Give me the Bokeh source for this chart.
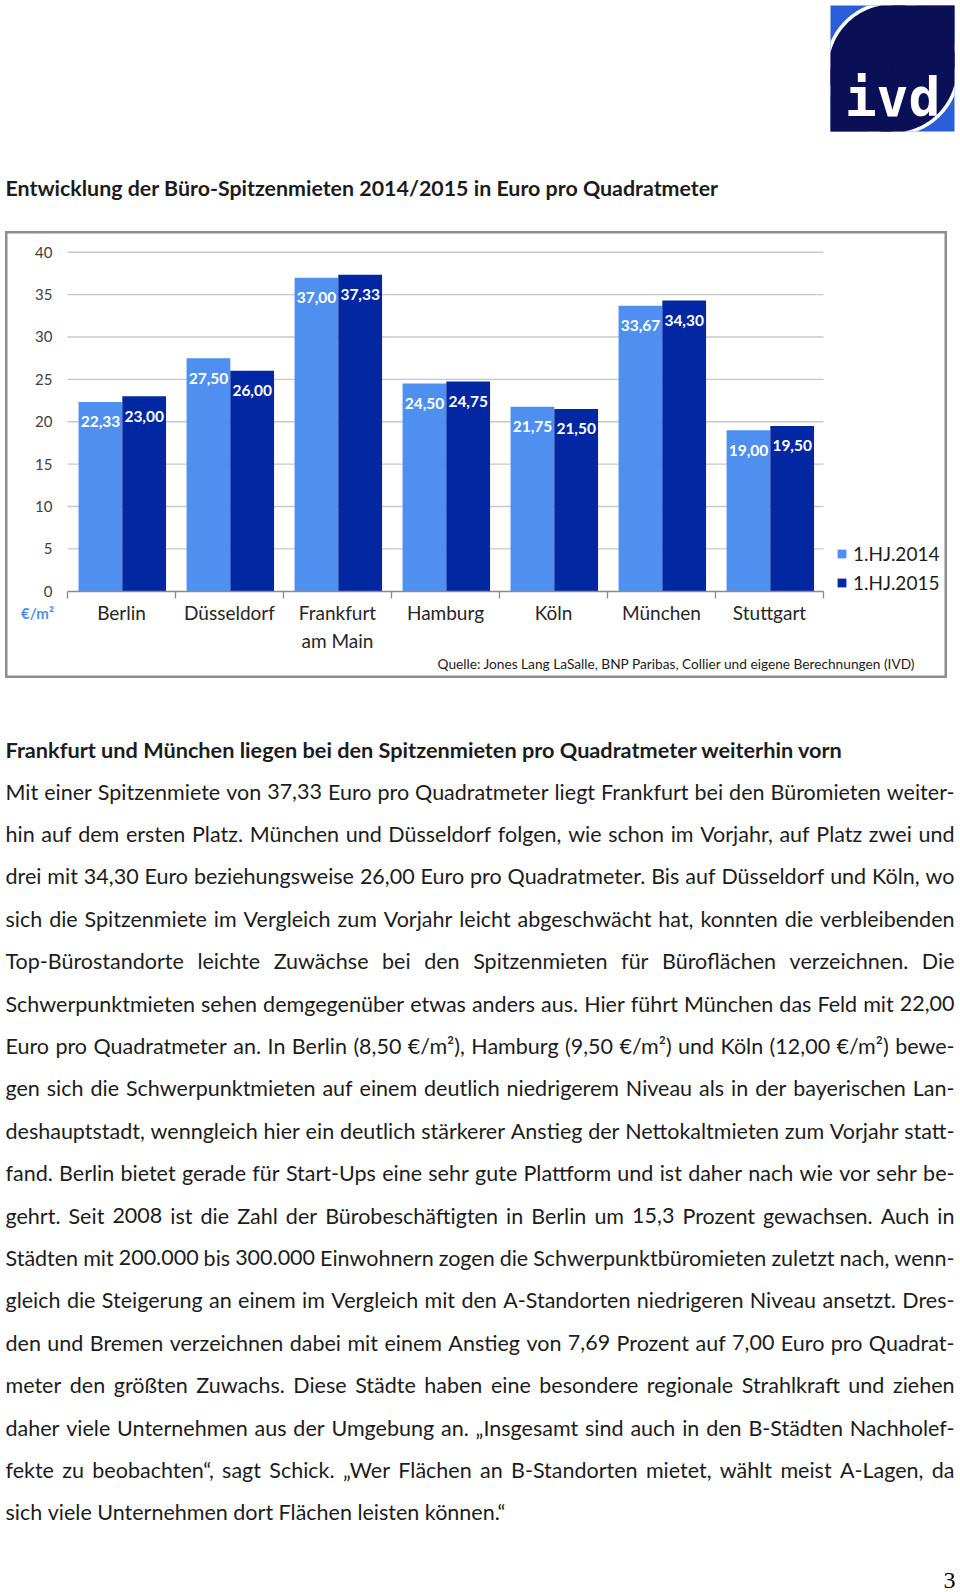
import numpy as np
from bokeh.plotting import figure
from bokeh.models import (Range1d, LinearAxis, FixedTicker, CustomJSTickFormatter,
                          Legend, LegendItem, Spacer, ColumnDataSource, CustomJS)
from bokeh.layouts import column, row
from bokeh.core.properties import value
from bokeh.document import Document
from bokeh.events import DocumentReady
from bokeh.embed import file_html
from bokeh.resources import INLINE

# ---------------- data ----------------
cities = ["Berlin", "Düsseldorf", "Frankfurt\nam Main", "Hamburg", "Köln", "München", "Stuttgart"]
h1_2014 = [22.33, 27.50, 37.00, 24.50, 21.75, 33.67, 19.00]
h1_2015 = [23.00, 26.00, 37.33, 24.75, 21.50, 34.30, 19.50]
series_names = ["1.HJ.2014", "1.HJ.2015"]
y_ticks = [0, 5, 10, 15, 20, 25, 30, 35, 40]
unit_label = "€/m²"
source_note = "Quelle: Jones Lang LaSalle, BNP Paribas, Collier und eigene Berechnungen (IVD)"
page_title = "Entwicklung der Büro-Spitzenmieten 2014/2015 in Euro pro Quadratmeter"
heading = "Frankfurt und München liegen bei den Spitzenmieten pro Quadratmeter weiterhin vorn"
body_lines = [
    "Mit einer Spitzenmiete von 37,33 Euro pro Quadratmeter liegt Frankfurt bei den Büromieten weiter-",
    "hin auf dem ersten Platz. München und Düsseldorf folgen, wie schon im Vorjahr, auf Platz zwei und",
    "drei mit 34,30 Euro beziehungsweise 26,00 Euro pro Quadratmeter. Bis auf Düsseldorf und Köln, wo",
    "sich die  Spitzenmiete im Vergleich zum Vorjahr leicht abgeschwächt hat, konnten die verbleibenden",
    "Top-Bürostandorte leichte Zuwächse bei den Spitzenmieten für Büroflächen verzeichnen. Die",
    "Schwerpunktmieten sehen demgegenüber etwas anders aus. Hier führt München das Feld mit 22,00",
    "Euro pro Quadratmeter an. In Berlin (8,50 €/m²), Hamburg (9,50 €/m²) und Köln (12,00 €/m²) bewe-",
    "gen sich die Schwerpunktmieten auf einem deutlich niedrigerem Niveau als in der bayerischen Lan-",
    "deshauptstadt, wenngleich hier ein deutlich stärkerer Anstieg der Nettokaltmieten zum Vorjahr statt-",
    "fand. Berlin bietet gerade für Start-Ups eine sehr gute Plattform und ist daher nach wie vor sehr be-",
    "gehrt. Seit 2008 ist die Zahl der Bürobeschäftigten in Berlin um 15,3 Prozent gewachsen. Auch in",
    "Städten mit 200.000 bis 300.000 Einwohnern zogen die Schwerpunktbüromieten zuletzt nach, wenn-",
    "gleich die Steigerung an einem im Vergleich mit den A-Standorten niedrigeren Niveau ansetzt. Dres-",
    "den und Bremen verzeichnen dabei mit einem Anstieg von 7,69 Prozent auf 7,00 Euro pro Quadrat-",
    "meter den größten Zuwachs. Diese Städte haben eine besondere regionale Strahlkraft und ziehen",
    "daher viele Unternehmen aus der Umgebung an.  „Insgesamt sind auch in den B-Städten Nachholef-",
    "fekte zu beobachten“, sagt Schick. „Wer Flächen an B-Standorten mietet, wählt meist A-Lagen, da",
    "sich viele Unternehmen dort Flächen leisten können.“",
]
page_number = "3"
logo_text = "ivd"

# ---------------- style / layout ----------------
FONT = value("Lato")
LIGHT = "#4f8fef"
DARK = "#0227a3"
NAVY = "#0b0f55"
TXT = "#1c1c1c"

W, H = 960, 1592
HEAD_H = 231
CH_LEFT, CH_W, CH_H = 5, 942, 447
CH_TOP = HEAD_H
BODY_TOP = CH_TOP + CH_H
BODY_H = H - BODY_TOP
TEXT_L, TEXT_R = 5, 954
BODY_FS = 21.5


def blank(w, h, xr, yr):
    f = figure(width=w, height=h, x_range=Range1d(*xr), y_range=Range1d(*yr),
               x_axis_type=None, y_axis_type=None, toolbar_location=None,
               output_backend="svg", min_border=0, outline_line_color=None,
               background_fill_color="white", border_fill_color="white")
    return f


def fmt(v):
    return f"{v:.2f}".replace(".", ",")


# ---------------- header ----------------
head = blank(W, HEAD_H, (0, W), (HEAD_H, 0))
lx0, lx1, ly0, ly1 = 830, 954, 5, 131
cx, cy = (lx0 + lx1) / 2, (ly0 + ly1) / 2
head.quad(left=lx0, right=lx1, top=ly0, bottom=ly1, fill_color="#2b5fd9", line_color=None)
t = np.linspace(0, 2 * np.pi, 240)
for r, col in [(67.5, "white"), (64, NAVY)]:
    xs = np.clip(cx + r * np.cos(t), lx0, lx1)
    ys = np.clip(cy + r * np.sin(t), ly0, ly1)
    head.patch(xs, ys, fill_color=col, line_color=None)
head.quad(left=cx, right=lx1, top=ly0, bottom=cy, fill_color=NAVY, line_color=None)
head.quad(left=lx0, right=cx, top=cy, bottom=ly1, fill_color=NAVY, line_color=None)
head.text(x=[cx], y=[97], text=[logo_text], text_align="center", text_baseline="alphabetic",
          text_color="white", text_font=value("DejaVu Sans Mono"), text_font_style="bold",
          text_font_size="53px")
head.text(x=[5], y=[187], text=[page_title], text_align="left", text_baseline="middle",
          text_color=TXT, text_font=FONT, text_font_style="bold", text_font_size="21.4px")

# ---------------- chart ----------------
PL, PR = 62, 818           # plot area inside the chart box (px)
Y0PX, YTOPPX = 359.7, 20.7  # pixel rows of 0 and of the top tick
ymax = max(y_ticks)
cw = (PR - PL) / len(cities)
ppu = (Y0PX - YTOPPX) / ymax
chart = figure(width=CH_W, height=CH_H,
               x_range=Range1d(-PL / cw, (CH_W - PL) / cw),
               y_range=Range1d(-(CH_H - Y0PX) / ppu, ymax + YTOPPX / ppu),
               x_axis_type=None, y_axis_type=None, toolbar_location=None,
               output_backend="svg", min_border=0,
               outline_line_color="#8c8c8c", outline_line_width=4,
               background_fill_color="white", border_fill_color="white")


def px2x(page_x):
    return ((page_x - CH_LEFT) - PL) / cw


def py2y(page_y):
    return (Y0PX - (page_y - CH_TOP)) / ppu


idx = np.arange(len(cities))
chart.segment(x0=0, x1=len(cities), y0=y_ticks[1:], y1=y_ticks[1:],
              line_color="#c8c8c8", line_width=1.4)

off1, off2, bw = 0.305, 0.71, 0.405
r1 = chart.vbar(x=idx + off1, top=h1_2014, bottom=0, width=bw, fill_color=LIGHT, line_color=None)
r2 = chart.vbar(x=idx + off2, top=h1_2015, bottom=0, width=bw, fill_color=DARK, line_color=None)

for offs, vals in [(off1, h1_2014), (off2, h1_2015)]:
    chart.text(x=idx + offs, y=vals, text=[fmt(v) for v in vals], text_align="center",
               text_baseline="middle", y_offset=20, text_color="white", text_font=FONT,
               text_font_style="bold", text_font_size="15.5px")

yax = LinearAxis(ticker=FixedTicker(ticks=y_ticks), fixed_location=0,
                 axis_line_color=None, major_tick_line_color=None, minor_tick_line_color=None,
                 major_tick_in=0, major_tick_out=0, major_label_standoff=15,
                 major_label_text_font="Lato", major_label_text_font_size="15px",
                 major_label_text_color="#404040")
chart.add_layout(yax, "left")

xtick_ax = LinearAxis(ticker=FixedTicker(ticks=list(range(len(cities) + 1))), fixed_location=0,
                      bounds=(0, len(cities)), axis_line_color="#8a8a8a", axis_line_width=1.3,
                      major_tick_line_color="#8a8a8a", major_tick_line_width=1.3,
                      major_tick_in=0, major_tick_out=7, minor_tick_line_color=None,
                      formatter=CustomJSTickFormatter(code="return ''"))
chart.add_layout(xtick_ax, "below")

xlab_ax = LinearAxis(ticker=FixedTicker(ticks=list(idx + 0.5)), fixed_location=0,
                     axis_line_color=None, major_tick_line_color=None, minor_tick_line_color=None,
                     major_tick_in=0, major_tick_out=0, major_label_standoff=10,
                     formatter=CustomJSTickFormatter(args=dict(labels=cities),
                                                     code="return labels[Math.floor(tick)]"),
                     major_label_text_font="Lato", major_label_text_font_size="19px",
                     major_label_text_color="#262626")
chart.add_layout(xlab_ax, "below")

chart.text(x=[px2x(37)], y=[py2y(612)], text=[unit_label], text_align="center",
           text_baseline="middle", text_color="#4f8fe6", text_font=FONT,
           text_font_style="bold", text_font_size="15px")
chart.text(x=[px2x(915)], y=[py2y(663)], text=[source_note], text_align="right",
           text_baseline="middle", text_color=TXT, text_font=FONT, text_font_size="13.7px")

legend = Legend(items=[LegendItem(label=series_names[0], renderers=[r1]),
                       LegendItem(label=series_names[1], renderers=[r2])],
                location=(831, 84), orientation="vertical", glyph_width=11, glyph_height=11,
                label_standoff=6, spacing=6, padding=0, margin=0, border_line_color=None,
                background_fill_alpha=0, label_text_font="Lato", label_text_font_size="19px",
                label_text_color=TXT, label_height=22)
chart.add_layout(legend)

chart_row = row(Spacer(width=CH_LEFT, height=CH_H), chart,
                Spacer(width=W - CH_LEFT - CH_W, height=CH_H))

# ---------------- body text (justified word by word) ----------------
body = blank(W, BODY_H, (0, W), (H, BODY_TOP))
body.text(x=[5], y=[749], text=[heading], text_align="left", text_baseline="middle",
          text_color=TXT, text_font=FONT, text_font_style="bold", text_font_size="21.7px")

line_y = [791 + 42.4 * i for i in range(len(body_lines))]


def est_w(s):
    tot = 0.0
    for c in s:
        if c in "ijlftr.,;:!'()-| „“":
            tot += 0.26
        elif c in "mwMW":
            tot += 0.80
        elif c.isupper():
            tot += 0.62
        else:
            tot += 0.50
    return tot * BODY_FS


w_text, w_x, w_y, w_line, w_just = [], [], [], [], []
for i, ln in enumerate(body_lines):
    ws = ln.split()
    just = i < len(body_lines) - 1
    widths = [est_w(w) for w in ws]
    if just and len(ws) > 1:
        gap = (TEXT_R - TEXT_L - sum(widths)) / (len(ws) - 1)
    else:
        gap = 0.26 * BODY_FS
    x = TEXT_L
    for w, wd in zip(ws, widths):
        w_text.append(w)
        w_x.append(x)
        w_y.append(line_y[i])
        w_line.append(i)
        w_just.append(1 if just else 0)
        x += wd + gap

words_src = ColumnDataSource(dict(x=w_x, y=w_y, text=w_text, line=w_line, just=w_just))
body.text(x="x", y="y", text="text", source=words_src, text_align="left",
          text_baseline="middle", text_color=TXT, text_font=FONT,
          text_font_size=f"{BODY_FS}px")
body.text(x=[949], y=[1580], text=[page_number], text_align="center", text_baseline="middle",
          text_color="black", text_font=value("Liberation Serif"), text_font_size="24px")

justify_js = CustomJS(args=dict(src=words_src, font=f"{BODY_FS}px Lato", left=TEXT_L, right=TEXT_R),
                      code="""
const ctx = document.createElement('canvas').getContext('2d');
ctx.font = font;
const d = src.data;
const n = d.text.length;
const xs = [];
const sp = ctx.measureText(' ').width;
let i = 0;
while (i < n) {
  let j = i;
  while (j < n && d.line[j] == d.line[i]) j++;
  const ws = [];
  let tot = 0;
  for (let k = i; k < j; k++) { const w = ctx.measureText(d.text[k]).width; ws.push(w); tot += w; }
  let gap = sp;
  if (d.just[i] == 1 && j - i > 1) gap = (right - left - tot) / (j - i - 1);
  let x = left;
  for (let k = i; k < j; k++) { xs.push(x); x += ws[k - i] + gap; }
  i = j;
}
src.data = Object.assign({}, d, {x: xs});
""")

page = column(head, chart_row, body)
doc = Document()
doc.add_root(page)
doc.js_on_event(DocumentReady, justify_js)
open("out.html", "w").write(file_html(doc, INLINE))
